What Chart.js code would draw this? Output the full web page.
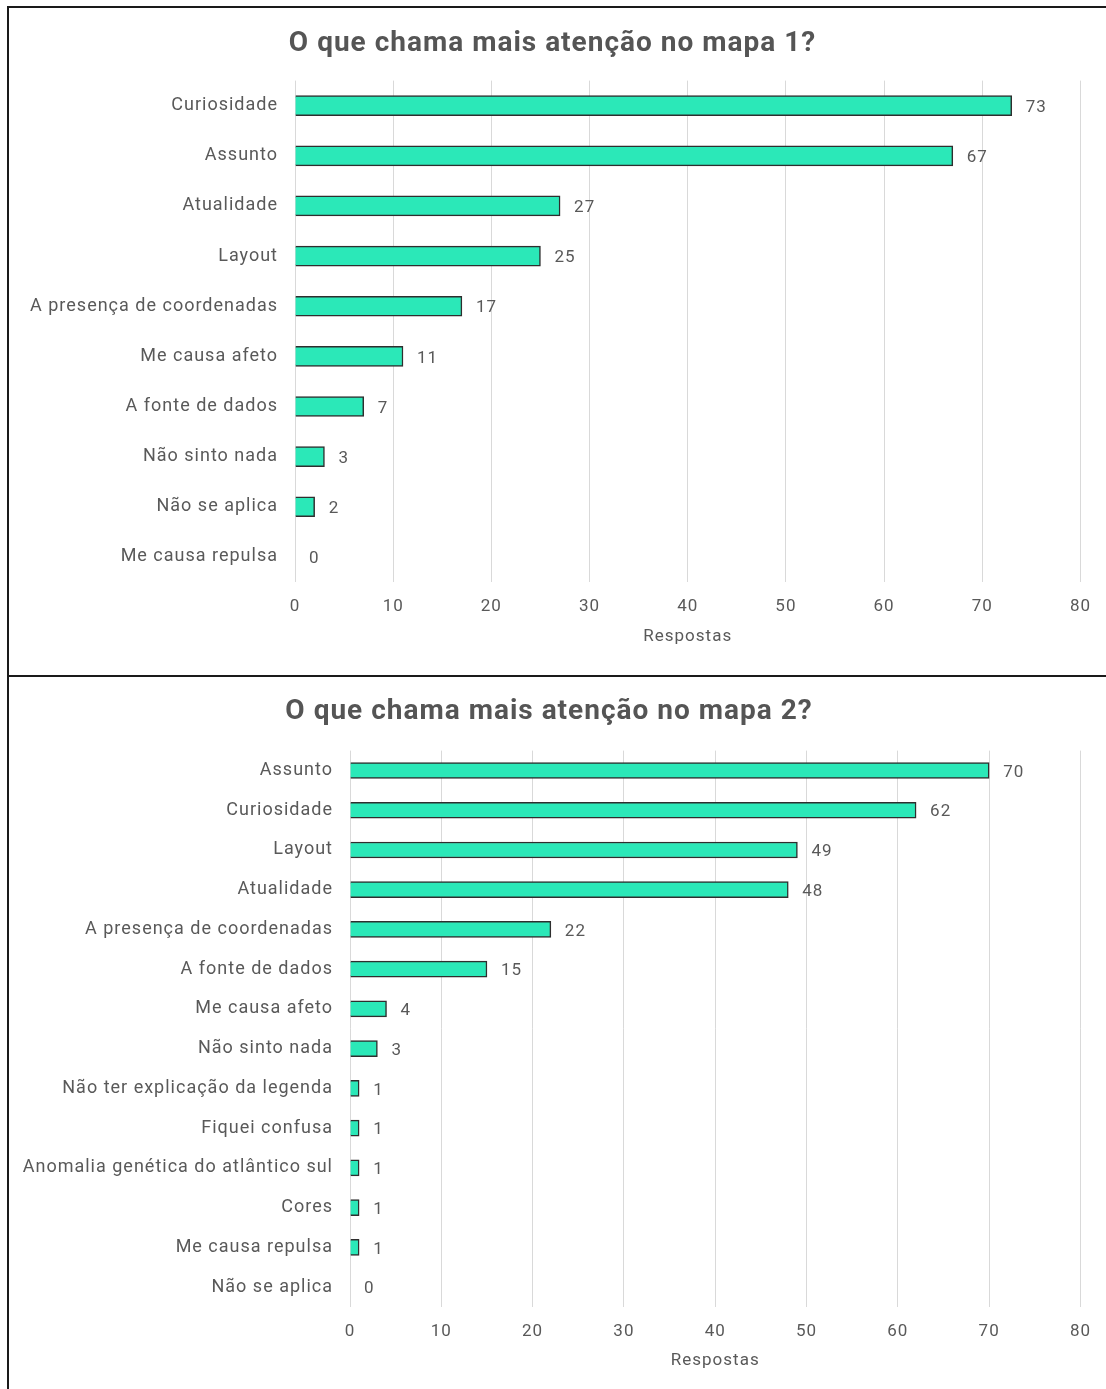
<!DOCTYPE html>
<html>
<head>
<meta charset="utf-8">
<script src="https://cdn.jsdelivr.net/npm/chart.js@4/dist/chart.umd.min.js"></script>
<style>
  body { margin: 0; background: #fff; }
  #page { position: relative; width: 1106px; height: 1389px; overflow: hidden; }
  .wrap { position: absolute; left: 0; width: 1106px; }
  .frame { position: absolute; border: 2px solid #1a1a1a; border-right: none; pointer-events: none; }
</style>
</head>
<body>
<div id="page">
  <div class="wrap" style="top:0;height:675px"><canvas id="mapa1"></canvas></div>
  <div class="wrap" style="top:675px;height:714px"><canvas id="mapa2"></canvas></div>
  <div class="frame" style="left:7px;top:6px;width:1110px;height:667px"></div>
  <div class="frame" style="left:7px;top:673px;width:1110px;height:730px;border-top:none"></div>
</div>
<script>
var titulo1 = 'O que chama mais atenção no mapa 1?';
var categorias1 = ['Curiosidade', 'Assunto', 'Atualidade', 'Layout', 'A presença de coordenadas',
                   'Me causa afeto', 'A fonte de dados', 'Não sinto nada', 'Não se aplica', 'Me causa repulsa'];
var respostas1 = [73, 67, 27, 25, 17, 11, 7, 3, 2, 0];

var titulo2 = 'O que chama mais atenção no mapa 2?';
var categorias2 = ['Assunto', 'Curiosidade', 'Layout', 'Atualidade', 'A presença de coordenadas',
                   'A fonte de dados', 'Me causa afeto', 'Não sinto nada', 'Não ter explicação da legenda',
                   'Fiquei confusa', 'Anomalia genética do atlântico sul', 'Cores', 'Me causa repulsa', 'Não se aplica'];
var respostas2 = [70, 62, 49, 48, 22, 15, 4, 3, 1, 1, 1, 1, 1, 0];

var eixoX = 'Respostas';
var xMax = 80;

var cinza = '#595959';
var fonte = "Roboto, 'Liberation Sans', sans-serif";

// the original text is spaced out a bit
function espacar(chart) { chart.ctx.letterSpacing = '1px'; }
var espaco = {
  id: 'espaco',
  beforeUpdate: espacar,
  beforeLayout: espacar,
  beforeDraw: espacar
};

// draws the value next to each bar
var valores = {
  id: 'valores',
  afterDatasetsDraw: function(chart) {
    var ctx = chart.ctx;
    var meta = chart.getDatasetMeta(0);
    ctx.save();
    ctx.fillStyle = cinza;
    ctx.font = '17px ' + fonte;
    ctx.textBaseline = 'middle';
    ctx.textAlign = 'left';
    meta.data.forEach(function(bar, i) {
      ctx.fillText(chart.data.datasets[0].data[i], bar.x + 14, bar.y + 2);
    });
    ctx.restore();
  }
};

function grafico(id, titulo, cats, vals, o) {
  new Chart(document.getElementById(id), {
    type: 'bar',
    data: {
      labels: cats,
      datasets: [{
        data: vals,
        backgroundColor: '#2be8b8',
        borderColor: '#2e2e2e',
        borderWidth: 1.5,
        barThickness: o.barra
      }]
    },
    options: {
      indexAxis: 'y',
      responsive: true,
      maintainAspectRatio: false,
      animation: false,
      layout: { padding: { left: o.margem, right: o.direita, bottom: o.baixo } },
      plugins: {
        legend: { display: false },
        tooltip: { enabled: false },
        title: {
          display: true,
          text: titulo,
          color: '#555',
          font: { family: fonte, size: 28, weight: 'bold' },
          padding: { top: o.tituloTopo, bottom: o.tituloBaixo }
        }
      },
      scales: {
        x: {
          min: 0,
          max: xMax,
          ticks: { stepSize: 10, color: cinza, padding: 15, font: { family: fonte, size: 17 } },
          grid: { color: '#d9d9d9', drawTicks: false },
          border: { display: false },
          title: { display: true, text: eixoX, color: cinza, font: { family: fonte, size: 17 }, padding: 0 },
          afterFit: function(s) { s.height = o.alturaX; }
        },
        y: {
          ticks: { color: cinza, padding: 17, font: { family: fonte, size: 18 } },
          grid: { display: false, drawTicks: false },
          border: { display: false },
          afterFit: function(s) { s.width = o.largura; }
        }
      }
    },
    plugins: [espaco, valores]
  });
}

grafico('mapa1', titulo1, categorias1, respostas1,
  { barra: 20, margem: 24, largura: 271, direita: 25, baixo: 28, alturaX: 65, tituloTopo: 27, tituloBaixo: 20 });
grafico('mapa2', titulo2, categorias2, respostas2,
  { barra: 16, margem: 16, largura: 334, direita: 24, baixo: 18, alturaX: 64, tituloTopo: 20, tituloBaixo: 22 });
</script>
</body>
</html>
